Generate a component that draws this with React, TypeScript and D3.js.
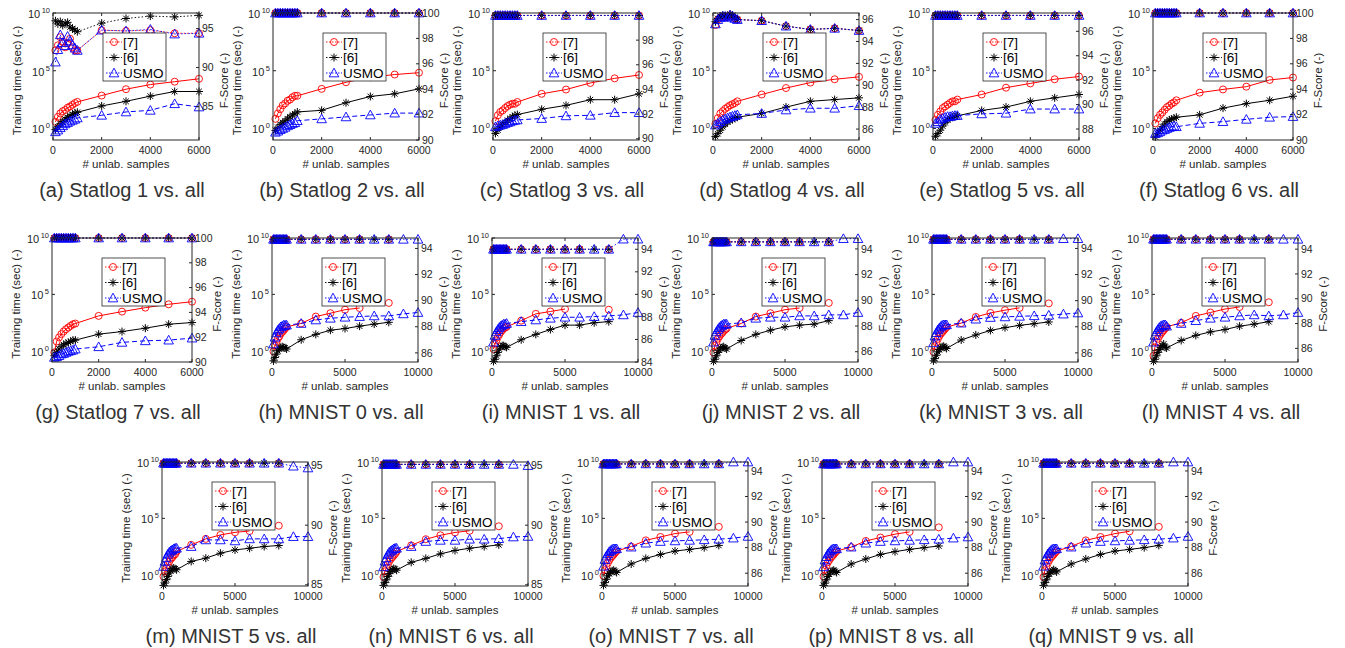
import React from "react";
import * as d3 from "d3";

// number of unlabelled samples
const statlogX = [100, 200, 300, 400, 500, 600, 700, 800, 900, 1000, 2000, 3000, 4000, 5000, 6000];
const mnistX = [100, 200, 300, 400, 500, 600, 700, 800, 900, 1000, 2000, 3000, 4000, 5000, 6000, 7000, 8000, 9000, 10000];
const statlogXTicks = [0, 2000, 4000, 6000];
const mnistXTicks = [0, 5000, 10000];
const timeTickExps = [0, 5, 10];
const methods = ["[7]", "[6]", "USMO"];

// training time, read as log10(sec); order [7], [6], USMO
const a7 = [0.57, 1.0, 1.3, 1.5, 1.6, 1.8, 1.9, 2.05, 2.2, 2.3, 2.85, 3.4, 3.8, 4.05, 4.3];
const a6 = [-0.1, 0.15, 0.4, 0.6, 0.8, 0.95, 1.1, 1.2, 1.35, 1.4, 1.95, 2.35, 2.8, 3.2, 3.2];
const aU = [-0.29, -0.14, 0.06, 0.23, 0.4, 0.51, 0.63, 0.71, 0.8, 0.91, 1.14, 1.43, 1.57, 2.14, 1.86];
const b7 = [0.83, 1.3, 1.67, 2.0, 2.17, 2.4, 2.5, 2.7, 2.83, 2.83, 3.43, 4.0, 4.43, 4.67, 4.83];
const b6 = [-0.17, 0.1, 0.33, 0.5, 0.67, 0.83, 1.0, 1.17, 1.27, 1.43, 1.57, 2.23, 2.77, 3.0, 3.43];
const bU = [-0.33, -0.23, -0.1, 0, 0.1, 0.23, 0.33, 0.43, 0.5, 0.67, 0.83, 1.0, 1.17, 1.33, 1.33];
const c7 = [0.63, 1.14, 1.43, 1.57, 1.77, 1.94, 2.06, 2.14, 2.14, 2.29, 3.0, 3.37, 3.94, 4.34, 4.63];
const c6 = [-0.43, -0.14, 0.14, 0.34, 0.51, 0.71, 0.86, 1.0, 1.14, 1.2, 1.66, 2.0, 2.49, 2.49, 3.0];
const cU = [0.14, 0.23, 0.29, 0.34, 0.43, 0.51, 0.57, 0.66, 0.71, 0.74, 0.86, 1.09, 1.14, 1.37, 1.37];
const d7 = [0.4, 0.9, 1.3, 1.5, 1.7, 1.85, 2.0, 2.1, 2.2, 2.35, 2.94, 3.5, 3.97, 4.26, 4.47];
const d6 = [-0.7, -0.45, -0.15, 0.15, 0.38, 0.56, 0.68, 0.79, 0.88, 0.97, 1.3, 1.85, 2.35, 2.5, 2.65];
const dU = [0.3, 0.44, 0.59, 0.74, 0.82, 0.91, 1.0, 1.06, 1.12, 1.18, 1.3, 1.6, 1.75, 1.75, 1.97];
const e7 = [0.74, 1.18, 1.47, 1.76, 1.91, 2.06, 2.21, 2.35, 2.35, 2.5, 2.94, 3.53, 3.9, 4.26, 4.5];
const e6 = [-0.68, -0.44, -0.15, 0.21, 0.5, 0.74, 0.88, 0.97, 1.03, 1.09, 1.56, 1.85, 2.35, 2.65, 2.94];
const eU = [0.44, 0.59, 0.79, 0.88, 0.97, 1.03, 1.03, 1.09, 1.12, 1.12, 1.26, 1.32, 1.68, 1.68, 1.68];
const f7 = [0.44, 0.88, 1.18, 1.38, 1.62, 1.85, 1.97, 2.15, 2.26, 2.44, 3.1, 3.38, 3.62, 4.2, 4.41];
const f6 = [-0.74, -0.44, -0.15, 0.15, 0.38, 0.59, 0.74, 0.82, 0.88, 0.97, 1.18, 1.76, 2.15, 2.44, 2.79];
const fU = [-0.44, -0.38, -0.29, -0.15, -0.09, 0, 0.09, 0.15, 0.21, 0.15, 0.44, 0.59, 0.79, 0.97, 1.03];
const g7 = [-0.15, 0.82, 1.18, 1.47, 1.71, 1.91, 2.06, 2.21, 2.35, 2.41, 3.09, 3.47, 3.82, 4.12, 4.35];
const g6 = [-0.44, -0.15, 0.15, 0.35, 0.53, 0.65, 0.74, 0.82, 0.94, 0.94, 1.47, 1.7, 2.0, 2.35, 2.5];
const gU = [-0.59, -0.53, -0.44, -0.29, -0.24, -0.15, -0.06, 0, 0.06, 0.15, 0.35, 0.74, 0.88, 0.94, 1.12];
const h7 = [-0.06, 0.45, 0.76, 1.06, 1.27, 1.52, 1.67, 1.82, 1.97, 2.12, 2.42, 3.03, 3.33, 3.64, 3.79, null, 4.24, null, null];
const h6 = [-0.9, -0.6, -0.3, 0, 0.15, 0.3, 0.36, 0.3, 0.24, 0.15, 0.97, 1.45, 1.82, 1.97, 2.18, 2.36, 2.52, null, null];
const hU = [0.6, 1.2, 1.58, 1.82, 1.97, 2.12, 2.18, 2.27, 2.27, 2.27, 2.42, 2.73, 2.88, 2.97, 3.03, 3.09, 3.09, 3.27, 3.39];
const i7 = [0.15, 0.61, 0.91, 1.21, 1.45, 1.67, 1.82, 1.97, 2.06, 2.12, 2.67, 3.27, 3.48, 3.7, null, null, 3.64, null, null];
const i6 = [-0.95, -0.76, -0.45, -0.15, 0.15, 0.36, 0.45, 0.45, 0.36, 0.3, 0.97, 1.45, 1.88, 2.27, 2.27, 2.48, 2.58, null, null];
const iU = [0.76, 1.36, 1.67, 1.88, 2.06, 2.18, 2.27, 2.36, 2.36, 2.42, 2.58, 2.73, 2.88, 2.97, 2.97, 3.03, 3.09, 3.18, 3.39];
const j7 = [-0.15, 0.45, 0.76, 1.06, 1.27, 1.45, 1.58, 1.76, 1.88, 1.97, 2.42, 3.03, 3.33, 3.64, 3.79, null, 4.24, null, null];
const j6 = [-0.95, -0.76, -0.45, -0.15, 0.06, 0.24, 0.3, 0.36, 0.24, 0.15, 0.91, 1.45, 1.82, 2.12, 2.27, 2.36, 2.67, null, null];
const jU = [0.76, 1.36, 1.67, 1.88, 2.06, 2.18, 2.27, 2.36, 2.36, 2.36, 2.48, 2.88, 2.97, 2.97, 3.09, 3.09, 3.18, 3.18, 3.39];
const k7 = [-0.1, 0.4, 0.75, 1.05, 1.3, 1.5, 1.65, 1.8, 1.95, 2.1, 2.45, 3.0, 3.35, 3.6, 3.8, null, 4.2, null, null];
const k6 = [-0.9, -0.7, -0.4, -0.1, 0.1, 0.25, 0.35, 0.4, 0.3, 0.2, 0.95, 1.4, 1.8, 2.05, 2.25, 2.4, 2.55, null, null];
const kU = [0.7, 1.3, 1.6, 1.85, 2.0, 2.15, 2.25, 2.3, 2.3, 2.3, 2.45, 2.8, 2.95, 3.0, 3.05, 3.1, 3.15, 3.25, 3.35];
const l7 = [-0.45, 0.3, 0.76, 1.06, 1.3, 1.5, 1.67, 1.82, 1.97, 2.12, 2.48, 3.09, 3.39, 3.7, 3.88, null, 4.3, null, null];
const l6 = [-0.95, -0.76, -0.45, -0.15, 0.1, 0.3, 0.45, 0.6, 0.3, 0.24, 0.91, 1.36, 1.67, 1.88, 2.18, 2.36, 2.58, null, null];
const lU = [0.76, 1.36, 1.67, 1.88, 2.06, 2.18, 2.24, 2.3, 2.3, 2.18, 2.42, 2.67, 2.88, 2.97, 3.09, 3.18, 3.09, 3.18, 3.39];
const m7 = [-0.15, 0.29, 0.59, 0.88, 1.18, 1.41, 1.53, 1.71, 1.82, 2.06, 2.65, 3.18, 3.53, 3.76, 3.88, null, 4.35, null, null];
const m6 = [-0.95, -0.74, -0.44, -0.15, 0.15, 0.35, 0.53, 0.59, 0.53, 0.44, 1.18, 1.47, 1.91, 2.2, 2.35, 2.5, 2.59, null, null];
const mU = [0.74, 1.18, 1.53, 1.82, 2.0, 2.12, 2.21, 2.29, 2.35, 2.35, 2.5, 3.09, 3.09, 3.0, 3.18, 3.18, 3.18, 3.38, 3.38];
const n7 = [-0.2, 0.3, 0.6, 0.9, 1.2, 1.4, 1.55, 1.7, 1.85, 2.05, 2.6, 3.15, 3.5, 3.75, 3.9, null, 4.3, null, null];
const n6 = [-0.95, -0.7, -0.45, -0.15, 0.1, 0.3, 0.45, 0.55, 0.5, 0.4, 1.1, 1.45, 1.85, 2.15, 2.35, 2.5, 2.65, null, null];
const nU = [0.7, 1.2, 1.5, 1.8, 2.0, 2.1, 2.2, 2.3, 2.35, 2.35, 2.5, 2.95, 3.05, 3.05, 3.15, 3.15, 3.2, 3.35, 3.4];
const o7 = [-0.1, 0.4, 0.75, 1.05, 1.3, 1.5, 1.65, 1.8, 1.95, 2.1, 2.5, 3.05, 3.35, 3.65, 3.8, null, 4.25, null, null];
const o6 = [-0.95, -0.7, -0.4, -0.1, 0.1, 0.25, 0.35, 0.4, 0.3, 0.2, 0.95, 1.45, 1.8, 2.1, 2.25, 2.4, 2.6, null, null];
const oU = [0.75, 1.35, 1.65, 1.85, 2.05, 2.15, 2.25, 2.3, 2.3, 2.3, 2.45, 2.8, 2.95, 3.0, 3.05, 3.1, 3.15, 3.25, 3.4];
const p7 = [-0.15, 0.45, 0.8, 1.1, 1.3, 1.5, 1.65, 1.8, 1.95, 2.1, 2.45, 3.0, 3.3, 3.6, 3.8, null, 4.2, null, null];
const p6 = [-0.95, -0.75, -0.45, -0.15, 0.05, 0.25, 0.35, 0.4, 0.3, 0.2, 0.95, 1.4, 1.8, 2.05, 2.25, 2.4, 2.55, null, null];
const pU = [0.7, 1.3, 1.6, 1.85, 2.0, 2.15, 2.25, 2.3, 2.3, 2.3, 2.45, 2.8, 2.95, 3.0, 3.05, 3.1, 3.15, 3.25, 3.35];
const q7 = [-0.2, 0.4, 0.75, 1.05, 1.3, 1.5, 1.65, 1.8, 1.95, 2.1, 2.5, 3.05, 3.35, 3.65, 3.85, null, 4.25, null, null];
const q6 = [-0.95, -0.7, -0.45, -0.15, 0.1, 0.25, 0.35, 0.45, 0.35, 0.25, 0.95, 1.4, 1.8, 2.1, 2.25, 2.4, 2.6, null, null];
const qU = [0.75, 1.3, 1.6, 1.85, 2.0, 2.15, 2.25, 2.3, 2.3, 2.3, 2.45, 2.8, 2.95, 3.0, 3.05, 3.1, 3.15, 3.25, 3.4];

// F-score (%)
const aF7 = [92.2, 92.85, 93.9, 93.3, 92.6, 93.1, 93.7, 92.6, 92.2, 92.2, 94.8, 94.7, 94.8, 94.4, 94.4];
const aF6 = [96.0, 95.6, 95.9, 95.4, 95.7, 95.8, 95.2, 95.0, 94.8, 94.6, 95.7, 96.3, 96.6, 96.5, 96.7];
const aFU = [90.7, 92.3, 94.2, 93.2, 92.8, 94.0, 93.4, 92.9, 92.5, 92.2, 94.8, 94.7, 94.9, 94.3, 94.4];
const bF = [100, 100, 100, 100, 100, 100, 100, 100, 100, 100, 100, 100, 100, 100, 100];
const cF = [100, 100, 100, 100, 100, 100, 100, 100, 100, 100, 100, 100, 100, 100, 100];
const dF7 = [95.5, 96.0, 96.2, 96.3, 96.2, 96.3, 96.4, 96.3, 96.1, 96.0, 95.9, 95.4, 95.1, 95.2, 95.0];
const dF6 = [95.8, 96.1, 96.3, 96.4, 96.3, 96.2, 96.5, 96.4, 96.2, 96.0, 95.9, 95.4, 95.1, 95.2, 95.0];
const dFU = [95.6, 96.0, 96.2, 96.3, 96.3, 96.2, 96.4, 96.3, 96.1, 96.0, 95.9, 95.4, 95.1, 95.2, 95.0];
const eF = [97.3, 97.3, 97.3, 97.3, 97.3, 97.3, 97.3, 97.3, 97.3, 97.3, 97.3, 97.3, 97.3, 97.3, 97.3];
const fF = [100, 100, 100, 100, 100, 100, 100, 100, 100, 100, 100, 100, 100, 100, 100];
const gF = [100, 100, 100, 100, 100, 100, 100, 100, 100, 100, 100, 100, 100, 100, 100];
const hF7 = [94.7, 94.7, 94.7, 94.7, 94.7, 94.7, 94.7, 94.7, 94.7, 94.7, 94.7, 94.7, 94.7, 94.7, 94.7, null, 94.7, null, null];
const hF6 = [94.7, 94.7, 94.7, 94.7, 94.7, 94.7, 94.7, 94.7, 94.7, 94.7, 94.7, 94.7, 94.7, 94.7, 94.7, 94.7, 94.7, null, null];
const hFU = [94.7, 94.7, 94.7, 94.7, 94.7, 94.7, 94.7, 94.7, 94.7, 94.7, 94.7, 94.7, 94.7, 94.7, 94.7, 94.7, 94.7, 94.7, 94.7];
const iF7 = [94, 94, 94, 94, 94, 94, 94, 94, 94, 94, 94, 94, 94, 94, 94, null, 94, null, null];
const iF6 = [94, 94, 94, 94, 94, 94, 94, 94, 94, 94, 94, 94, 94, 94, 94, 94, 94, null, null];
const iFU = [94, 94, 94, 94, 94, 94, 94, 94, 94, 94, 94, 94, 94, 94, 94, 94, 94, 94.9, 94.9];
const jF7 = [94.55, 94.55, 94.55, 94.55, 94.55, 94.55, 94.55, 94.55, 94.55, 94.55, 94.55, 94.55, 94.55, 94.55, 94.55, null, 94.55, null, null];
const jF6 = [94.55, 94.55, 94.55, 94.55, 94.55, 94.55, 94.55, 94.55, 94.55, 94.55, 94.55, 94.55, 94.55, 94.55, 94.55, 94.55, 94.55, null, null];
const jFU = [94.55, 94.55, 94.55, 94.55, 94.55, 94.55, 94.55, 94.55, 94.55, 94.55, 94.55, 94.55, 94.55, 94.55, 94.55, 94.55, 94.55, 94.8, 94.8];
const kF7 = [94.7, 94.7, 94.7, 94.7, 94.7, 94.7, 94.7, 94.7, 94.7, 94.7, 94.7, 94.7, 94.7, 94.7, 94.7, null, 94.7, null, null];
const kF6 = [94.7, 94.7, 94.7, 94.7, 94.7, 94.7, 94.7, 94.7, 94.7, 94.7, 94.7, 94.7, 94.7, 94.7, 94.7, 94.7, 94.7, null, null];
const kFU = [94.7, 94.7, 94.7, 94.7, 94.7, 94.7, 94.7, 94.7, 94.7, 94.7, 94.7, 94.7, 94.7, 94.7, 94.7, 94.7, 94.7, 94.75, 94.75];
const lF7 = [94.8, 94.8, 94.8, 94.8, 94.8, 94.8, 94.8, 94.8, 94.8, 94.8, 94.8, 94.8, 94.8, 94.8, 94.8, null, 94.8, null, null];
const lF6 = [94.8, 94.8, 94.8, 94.8, 94.8, 94.8, 94.8, 94.8, 94.8, 94.8, 94.8, 94.8, 94.8, 94.8, 94.8, 94.8, 94.8, null, null];
const lFU = [94.8, 94.8, 94.8, 94.8, 94.8, 94.8, 94.8, 94.8, 94.8, 94.8, 94.8, 94.8, 94.8, 94.8, 94.8, 94.8, 94.8, 94.8, 94.8];
const mF7 = [95.2, 95.2, 95.2, 95.2, 95.2, 95.2, 95.2, 95.2, 95.2, 95.2, 95.2, 95.2, 95.2, 95.2, 95.2, null, 95.2, null, null];
const mF6 = [95.2, 95.2, 95.2, 95.2, 95.2, 95.2, 95.2, 95.2, 95.2, 95.2, 95.2, 95.2, 95.2, 95.2, 95.2, 95.2, 95.2, null, null];
const mFU = [95.2, 95.2, 95.2, 95.2, 95.2, 95.2, 95.2, 95.2, 95.2, 95.2, 95.2, 95.2, 95.2, 95.2, 95.2, 95.2, 95.2, 94.95, 94.8];
const nF7 = [95.1, 95.1, 95.1, 95.1, 95.1, 95.1, 95.1, 95.1, 95.1, 95.1, 95.1, 95.1, 95.1, 95.1, 95.1, null, 95.1, null, null];
const nF6 = [95.1, 95.1, 95.1, 95.1, 95.1, 95.1, 95.1, 95.1, 95.1, 95.1, 95.1, 95.1, 95.1, 95.1, 95.1, 95.1, 95.1, null, null];
const nFU = [95.1, 95.1, 95.1, 95.1, 95.1, 95.1, 95.1, 95.1, 95.1, 95.1, 95.1, 95.1, 95.1, 95.1, 95.1, 95.1, 95.1, 95.1, 95.0];
const oF7 = [94.55, 94.55, 94.55, 94.55, 94.55, 94.55, 94.55, 94.55, 94.55, 94.55, 94.55, 94.55, 94.55, 94.55, 94.55, null, 94.55, null, null];
const oF6 = [94.55, 94.55, 94.55, 94.55, 94.55, 94.55, 94.55, 94.55, 94.55, 94.55, 94.55, 94.55, 94.55, 94.55, 94.55, 94.55, 94.55, null, null];
const oFU = [94.55, 94.55, 94.55, 94.55, 94.55, 94.55, 94.55, 94.55, 94.55, 94.55, 94.55, 94.55, 94.55, 94.55, 94.55, 94.55, 94.55, 94.7, 94.7];
const pF7 = [94.55, 94.55, 94.55, 94.55, 94.55, 94.55, 94.55, 94.55, 94.55, 94.55, 94.55, 94.55, 94.55, 94.55, 94.55, null, 94.55, null, null];
const pF6 = [94.55, 94.55, 94.55, 94.55, 94.55, 94.55, 94.55, 94.55, 94.55, 94.55, 94.55, 94.55, 94.55, 94.55, 94.55, 94.55, 94.55, null, null];
const pFU = [94.55, 94.55, 94.55, 94.55, 94.55, 94.55, 94.55, 94.55, 94.55, 94.55, 94.55, 94.55, 94.55, 94.55, 94.55, 94.55, 94.55, 94.7, 94.7];
const qF7 = [94.6, 94.6, 94.6, 94.6, 94.6, 94.6, 94.6, 94.6, 94.6, 94.6, 94.6, 94.6, 94.6, 94.6, 94.6, null, 94.6, null, null];
const qF6 = [94.6, 94.6, 94.6, 94.6, 94.6, 94.6, 94.6, 94.6, 94.6, 94.6, 94.6, 94.6, 94.6, 94.6, 94.6, 94.6, 94.6, null, null];
const qFU = [94.6, 94.6, 94.6, 94.6, 94.6, 94.6, 94.6, 94.6, 94.6, 94.6, 94.6, 94.6, 94.6, 94.6, 94.6, 94.6, 94.6, 94.7, 94.7];

const ticks2 = (a: number, b: number) => d3.range(a, b + 1, 2);

const panels = [
  { tag: "a", title: "Statlog 1 vs. all", x: statlogX, xTicks: statlogXTicks, time: [a7, a6, aU], fs: [aF7, aF6, aFU], fDomain: [80.7, 97], fTicks: [85, 90, 95] },
  { tag: "b", title: "Statlog 2 vs. all", x: statlogX, xTicks: statlogXTicks, time: [b7, b6, bU], fs: [bF, bF, bF], fDomain: [90, 100], fTicks: ticks2(90, 100) },
  { tag: "c", title: "Statlog 3 vs. all", x: statlogX, xTicks: statlogXTicks, time: [c7, c6, cU], fs: [cF, cF, cF], fDomain: [89.9, 100.2], fTicks: ticks2(90, 98) },
  { tag: "d", title: "Statlog 4 vs. all", x: statlogX, xTicks: statlogXTicks, time: [d7, d6, dU], fs: [dF7, dF6, dFU], fDomain: [85, 96.6], fTicks: ticks2(86, 96) },
  { tag: "e", title: "Statlog 5 vs. all", x: statlogX, xTicks: statlogXTicks, time: [e7, e6, eU], fs: [eF, eF, eF], fDomain: [87.1, 97.5], fTicks: ticks2(88, 96) },
  { tag: "f", title: "Statlog 6 vs. all", x: statlogX, xTicks: statlogXTicks, time: [f7, f6, fU], fs: [fF, fF, fF], fDomain: [90, 100], fTicks: ticks2(90, 100) },
  { tag: "g", title: "Statlog 7 vs. all", x: statlogX, xTicks: statlogXTicks, time: [g7, g6, gU], fs: [gF, gF, gF], fDomain: [90, 100], fTicks: ticks2(90, 100) },
  { tag: "h", title: "MNIST 0 vs. all", x: mnistX, xTicks: mnistXTicks, time: [h7, h6, hU], fs: [hF7, hF6, hFU], fDomain: [85.3, 94.8], fTicks: ticks2(86, 94) },
  { tag: "i", title: "MNIST 1 vs. all", x: mnistX, xTicks: mnistXTicks, time: [i7, i6, iU], fs: [iF7, iF6, iFU], fDomain: [84, 95], fTicks: ticks2(84, 94) },
  { tag: "j", title: "MNIST 2 vs. all", x: mnistX, xTicks: mnistXTicks, time: [j7, j6, jU], fs: [jF7, jF6, jFU], fDomain: [85.2, 94.85], fTicks: ticks2(86, 94) },
  { tag: "k", title: "MNIST 3 vs. all", x: mnistX, xTicks: mnistXTicks, time: [k7, k6, kU], fs: [kF7, kF6, kFU], fDomain: [85.3, 94.8], fTicks: ticks2(86, 94) },
  { tag: "l", title: "MNIST 4 vs. all", x: mnistX, xTicks: mnistXTicks, time: [l7, l6, lU], fs: [lF7, lF6, lFU], fDomain: [84.9, 94.9], fTicks: ticks2(86, 94) },
  { tag: "m", title: "MNIST 5 vs. all", x: mnistX, xTicks: mnistXTicks, time: [m7, m6, mU], fs: [mF7, mF6, mFU], fDomain: [84.9, 95.3], fTicks: [85, 90, 95] },
  { tag: "n", title: "MNIST 6 vs. all", x: mnistX, xTicks: mnistXTicks, time: [n7, n6, nU], fs: [nF7, nF6, nFU], fDomain: [84.9, 95.3], fTicks: [85, 90, 95] },
  { tag: "o", title: "MNIST 7 vs. all", x: mnistX, xTicks: mnistXTicks, time: [o7, o6, oU], fs: [oF7, oF6, oFU], fDomain: [85, 94.7], fTicks: ticks2(86, 94) },
  { tag: "p", title: "MNIST 8 vs. all", x: mnistX, xTicks: mnistXTicks, time: [p7, p6, pU], fs: [pF7, pF6, pFU], fDomain: [85, 94.7], fTicks: ticks2(86, 94) },
  { tag: "q", title: "MNIST 9 vs. all", x: mnistX, xTicks: mnistXTicks, time: [q7, q6, qU], fs: [qF7, qF6, qFU], fDomain: [85, 94.7], fTicks: ticks2(86, 94) },
];

// layout
const rowStart = [0, 6, 12];
const rowTop = [13, 238, 462];
const rowHeight = [127, 124, 124];
const rowLeft = [53, 52, 162];
const colStep = 220;
const narrowTags = ["f", "g"];

const COLORS = ["#ff0000", "#000000", "#0000ff"];
const AXIS = "#262626";
const FONT = "'Liberation Sans', Arial, Helvetica, sans-serif";

function Marker({ kind, x, y, color }: any) {
  if (kind === 0) return <circle cx={x} cy={y} r={3.5} fill="none" stroke={color} strokeWidth={0.9} />;
  if (kind === 1) {
    const r = 4, q = r * 0.7;
    return (
      <path
        d={`M${x - r},${y}H${x + r}M${x},${y - r}V${y + r}M${x - q},${y - q}L${x + q},${y + q}M${x - q},${y + q}L${x + q},${y - q}`}
        stroke={color}
        strokeWidth={1}
        fill="none"
      />
    );
  }
  const s = 4.8;
  return <path d={`M${x},${y - s}L${x + s},${y + s * 0.8}L${x - s},${y + s * 0.8}Z`} fill="none" stroke={color} strokeWidth={0.9} />;
}

function Panel({ p, idx }: any) {
  const row = idx >= 12 ? 2 : idx >= 6 ? 1 : 0;
  const col = idx - rowStart[row];
  const left = rowLeft[row] + col * colStep;
  const width = narrowTags.includes(p.tag) ? 140 : 146;
  const right = left + width;
  const top = rowTop[row];
  const bottom = top + rowHeight[row];
  const midY = (top + bottom) / 2 + 4;

  const xMax = p.xTicks[p.xTicks.length - 1];
  const x = d3.scaleLinear().domain([0, xMax]).range([left, right]);
  const yT = d3.scaleLog().domain([0.1, 1e10]).range([bottom, top]);
  const yF = d3.scaleLinear().domain(p.fDomain).range([bottom, top]);

  const pairs = (ys: (number | null)[]) => p.x.map((xv: number, i: number) => [xv, ys[i]] as [number, number | null]);
  const timeLine = d3
    .line<[number, number | null]>()
    .defined((d) => d[1] != null)
    .x((d) => x(d[0]))
    .y((d) => yT(Math.pow(10, d[1] as number)));
  const fLine = d3
    .line<[number, number | null]>()
    .defined((d) => d[1] != null)
    .x((d) => x(d[0]))
    .y((d) => yF(d[1] as number));

  const lgX = left + 50;
  const lgY = top + 20;

  return (
    <g>
      {/* training time */}
      {p.time.map((ys: any, s: number) => (
        <g key={"t" + s}>
          <path d={timeLine(pairs(ys)) || ""} fill="none" stroke={COLORS[s]} strokeWidth={1} strokeDasharray={s === 2 ? "5,3" : undefined} />
          {pairs(ys)
            .filter((d: any) => d[1] != null)
            .map((d: any, i: number) => (
              <Marker key={i} kind={s} x={x(d[0])} y={yT(Math.pow(10, d[1]))} color={COLORS[s]} />
            ))}
        </g>
      ))}
      {/* f-score */}
      {p.fs.map((ys: any, s: number) => (
        <g key={"f" + s}>
          <path d={fLine(pairs(ys)) || ""} fill="none" stroke={COLORS[s]} strokeWidth={0.9} strokeDasharray="1.5,2" />
          {pairs(ys)
            .filter((d: any) => d[1] != null)
            .map((d: any, i: number) => (
              <Marker key={i} kind={s} x={x(d[0])} y={yF(d[1])} color={COLORS[s]} />
            ))}
        </g>
      ))}

      {/* axes box and ticks */}
      <rect x={left} y={top} width={width} height={bottom - top} fill="none" stroke={AXIS} strokeWidth={1} />
      {p.xTicks.map((t: number) => (
        <g key={"xt" + t}>
          <line x1={x(t)} x2={x(t)} y1={bottom} y2={bottom - 3} stroke={AXIS} />
          <line x1={x(t)} x2={x(t)} y1={top} y2={top + 3} stroke={AXIS} />
          <text x={x(t)} y={bottom + 14} textAnchor="middle" fontSize={10.5} fill={AXIS}>
            {t}
          </text>
        </g>
      ))}
      {timeTickExps.map((e) => (
        <g key={"yt" + e}>
          <line x1={left} x2={left + 3} y1={yT(Math.pow(10, e))} y2={yT(Math.pow(10, e))} stroke={AXIS} />
          <text x={left - 3} y={yT(Math.pow(10, e)) + 5} textAnchor="end" fontSize={11} fill={AXIS}>
            10
            <tspan dx={1.5} dy={-5} fontSize={7.5}>
              {e}
            </tspan>
          </text>
        </g>
      ))}
      {p.fTicks.map((t: number) => (
        <g key={"ft" + t}>
          <line x1={right} x2={right - 3} y1={yF(t)} y2={yF(t)} stroke={AXIS} />
          <text x={right + 3} y={yF(t)} dy="0.35em" fontSize={10.5} fill={AXIS}>
            {t}
          </text>
        </g>
      ))}
      <text x={(left + right) / 2} y={bottom + 28} textAnchor="middle" fontSize={11.5} fill={AXIS}>
        # unlab. samples
      </text>
      <text transform={`translate(${left - 32},${midY}) rotate(-90)`} textAnchor="middle" fontSize={11.5} fill={AXIS}>
        Training time (sec) (-)
      </text>
      <text transform={`translate(${right + 29},${midY}) rotate(-90)`} textAnchor="middle" fontSize={11.5} fill={AXIS}>
        F-Score (-)
      </text>

      {/* legend */}
      <rect x={lgX} y={lgY} width={63} height={48} fill="#fff" stroke={AXIS} strokeWidth={0.8} />
      {methods.map((m, s) => {
        const ly = lgY + 9 + s * 15.5;
        return (
          <g key={m}>
            <line x1={lgX + 3} x2={lgX + 19} y1={ly} y2={ly} stroke={COLORS[s]} strokeWidth={0.9} strokeDasharray="1.5,1.5" />
            <Marker kind={s} x={lgX + 11} y={ly} color={COLORS[s]} />
            <text x={lgX + 20} y={ly} dy="0.36em" fontSize={13.5} fill="#000">
              {m}
            </text>
          </g>
        );
      })}

      {/* caption */}
      <text x={(left + right) / 2 - 4} y={bottom + 57} textAnchor="middle" fontSize={20} fill="#333">
        ({p.tag}) {p.title}
      </text>
    </g>
  );
}

export default function App() {
  return (
    <svg width={1345} height={648} style={{ position: "absolute", left: 0, top: 0, background: "#fff" }} fontFamily={FONT}>
      <rect width={1345} height={648} fill="#fff" />
      {panels.map((p, i) => (
        <Panel key={p.tag} p={p} idx={i} />
      ))}
    </svg>
  );
}
